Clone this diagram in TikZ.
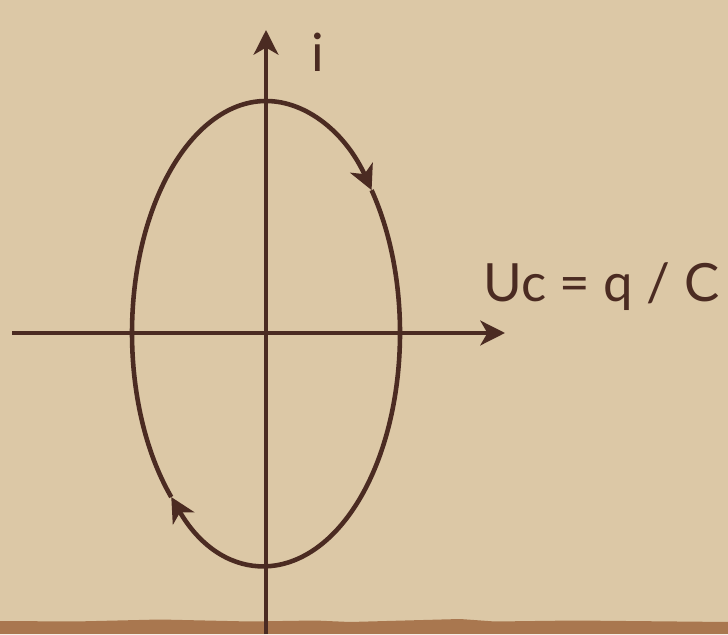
\documentclass[tikz,border=0pt]{standalone}
\usepackage{fontspec}
\setmainfont{Lato}
\usetikzlibrary{arrows.meta}
\definecolor{ink}{HTML}{4B2B22}
\definecolor{paper}{HTML}{DCC8A6}
\definecolor{edge}{HTML}{A9774F}
\begin{document}
\begin{tikzpicture}[>={Stealth[length=14pt,width=14pt,inset=4pt]},
  axis/.style={ink, line width=2.6pt},
  orbit/.style={ink, line width=2.6pt},
  lbl/.style={text=ink, font=\fontsize{30}{32}\selectfont, inner sep=0pt}]
\fill[paper] (0,0) rectangle (14.56,12.68);
\fill[edge] (0,0) -- (0,0.26) -- (1.5,0.25) -- (3.2,0.29) -- (5.0,0.25) -- (6.3,0.27)
  -- (7.0,0.24) -- (9.2,0.30) -- (9.9,0.25) -- (11.5,0.27) -- (14.56,0.24) -- (14.56,0) -- cycle;
\useasboundingbox (0,0) rectangle (14.56,12.68);

\coordinate (o) at (5.32,6.02);
\coordinate (xl) at (0.24,6.02);
\coordinate (xr) at (10.10,6.02);
\coordinate (yb) at (5.32,0);
\coordinate (yt) at (5.32,12.08);
\draw[axis,->] (xl) -- (xr);
\draw[axis,->] (yb) -- (yt);
\node[lbl, anchor=base west] (ulabel) at (9.66,6.64) {Uc = q / C};
\node[lbl, anchor=base] (ilabel) at (6.36,11.24) {i};

\draw[orbit,->] (o) ++(90:2.68 and 4.64) arc[start angle=90, end angle=38, x radius=2.68, y radius=4.64];
\draw[orbit,->] (o) ++(38:2.68 and 4.64) arc[start angle=38, end angle=-135, x radius=2.68, y radius=4.64];
\draw[orbit] (o) ++(-135:2.68 and 4.64) arc[start angle=-135, end angle=-270, x radius=2.68, y radius=4.64];
\end{tikzpicture}
\end{document}
